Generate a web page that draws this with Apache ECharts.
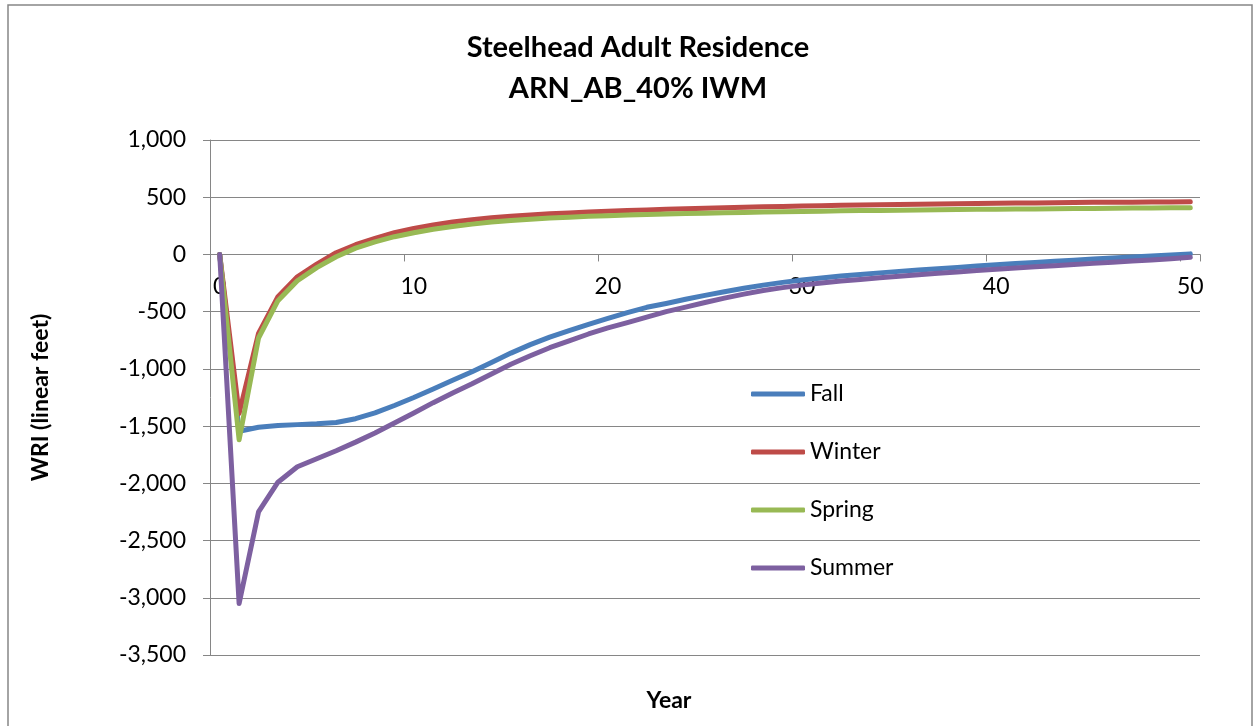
<!DOCTYPE html>
<html>
<head>
<meta charset="utf-8">
<script src="https://cdn.jsdelivr.net/npm/echarts@6/dist/echarts.min.js"></script>
<style>
  html, body { margin: 0; padding: 0; background: #fff; }
  #chart { width: 1258px; height: 726px; }
</style>
</head>
<body>
<div id="chart"></div>
<script>
// ---- data ----
const years = [];
for (let y = 0; y <= 50; y++) years.push(String(y));

const fall = [0, -1545, -1510, -1495, -1487, -1480, -1468, -1435, -1385, -1320,
  -1250, -1175, -1100, -1025, -945, -862, -788, -722, -665, -612,
  -558, -508, -462, -428, -392, -358, -326, -296, -268, -244,
  -224, -205, -189, -175, -161, -148, -136, -124, -113, -102,
  -91, -80, -70, -60, -50, -40, -31, -22, -13, -5, 5];
const winter = [0, -1390, -690, -370, -195, -85, 15, 85, 140, 190,
  228, 258, 283, 303, 320, 334, 345, 355, 363, 370,
  377, 383, 389, 394, 399, 404, 408, 412, 416, 419,
  423, 426, 429, 432, 434, 437, 439, 441, 443, 445,
  447, 449, 450, 452, 453, 455, 456, 457, 458, 459, 461];
const spring = [0, -1620, -730, -404, -230, -115, -20, 55, 110, 155,
  190, 220, 245, 265, 283, 297, 308, 318, 326, 333,
  339, 345, 350, 354, 358, 361, 364, 367, 370, 373,
  376, 378, 381, 383, 385, 387, 389, 391, 392, 394,
  395, 397, 398, 400, 401, 402, 404, 405, 406, 407, 408];
const summer = [0, -3050, -2250, -1990, -1855, -1785, -1715, -1640, -1560, -1472,
  -1385, -1295, -1210, -1130, -1045, -960, -885, -815, -755, -695,
  -642, -595, -548, -500, -460, -420, -382, -347, -315, -290,
  -268, -250, -233, -218, -203, -190, -177, -165, -153, -141,
  -130, -119, -108, -98, -88, -78, -68, -58, -48, -38, -25];

const seriesNames = ['Fall', 'Winter', 'Spring', 'Summer'];
const seriesColors = ['#4A7EBB', '#BE4B48', '#98B954', '#7D60A0'];
const seriesData = [fall, winter, spring, summer];

const titleLines = ['Steelhead Adult Residence', 'ARN_AB_40% IWM'];
const xName = 'Year';
const yName = 'WRI (linear feet)';

const yMin = -3500, yMax = 1000;

// ---- chart ----
const FONT = 'Lato';
const GRID_TOP = 140, GRID_BOTTOM = 71, H = 726;
const plotH = H - GRID_TOP - GRID_BOTTOM;
// move the category axis up to the value 0 line (Excel "horizontal axis crosses at 0")
const zeroOffset = -plotH * (0 - yMin) / (yMax - yMin);

const chart = echarts.init(document.getElementById('chart'), null, { renderer: 'canvas' });

const option = {
  backgroundColor: '#ffffff',
  animation: false,
  title: [
    {
      text: titleLines.join('\n'),
      left: 633,
      top: 22,
      textAlign: 'center',
      textStyle: { fontFamily: FONT, fontWeight: 'bold', fontSize: 29, lineHeight: 41, color: '#000' }
    },
    {
      text: xName,
      left: 664,
      top: 684,
      textAlign: 'center',
      textStyle: { fontFamily: FONT, fontWeight: 'bold', fontSize: 23, color: '#000' }
    }
  ],
  graphic: [
    {
      type: 'rect',
      shape: { x: 8, y: 5, width: 1244, height: 740 },
      style: { fill: 'none', stroke: '#868686', lineWidth: 1.5 },
      silent: true
    }
  ],
  legend: {
    orient: 'vertical',
    left: 746,
    top: 377,
    itemGap: 34,
    itemWidth: 54,
    itemHeight: 5,
    icon: 'roundRect',
    data: seriesNames,
    textStyle: { fontFamily: FONT, fontSize: 23, color: '#000', lineHeight: 24, padding: [0, 0, 0, 0] }
  },
  grid: { left: 210, right: 58, top: GRID_TOP, bottom: GRID_BOTTOM, containLabel: false },
  xAxis: {
    type: 'category',
    data: years,
    boundaryGap: true,
    offset: zeroOffset,
    axisLine: { onZero: false, lineStyle: { color: '#868686', width: 1 } },
    axisTick: { show: true, interval: 9, length: 7, lineStyle: { color: '#868686' } },
    axisLabel: { interval: 9, margin: 21, fontFamily: FONT, fontSize: 23, color: '#000' },
    splitLine: { show: false }
  },
  yAxis: {
    type: 'value',
    min: yMin,
    max: yMax,
    interval: 500,
    name: yName,
    nameLocation: 'middle',
    nameGap: 158,
    nameRotate: 90,
    nameTextStyle: { fontFamily: FONT, fontWeight: 'bold', fontSize: 23, color: '#000' },
    axisLine: { show: true, lineStyle: { color: '#868686', width: 1 } },
    axisTick: { show: true, length: 7, lineStyle: { color: '#868686' } },
    axisLabel: {
      margin: 24,
      fontFamily: FONT,
      fontSize: 23,
      color: '#000',
      formatter: v => v.toLocaleString('en-US')
    },
    splitLine: { show: true, lineStyle: { color: '#868686', width: 1 } }
  },
  series: seriesNames.map((n, i) => ({
    name: n,
    type: 'line',
    data: seriesData[i],
    showSymbol: false,
    symbol: 'none',
    smooth: false,
    color: seriesColors[i],
    lineStyle: { color: seriesColors[i], width: 5, cap: 'round', join: 'round' },
    itemStyle: { color: seriesColors[i] }
  }))
};

chart.setOption(option);
</script>
</body>
</html>
